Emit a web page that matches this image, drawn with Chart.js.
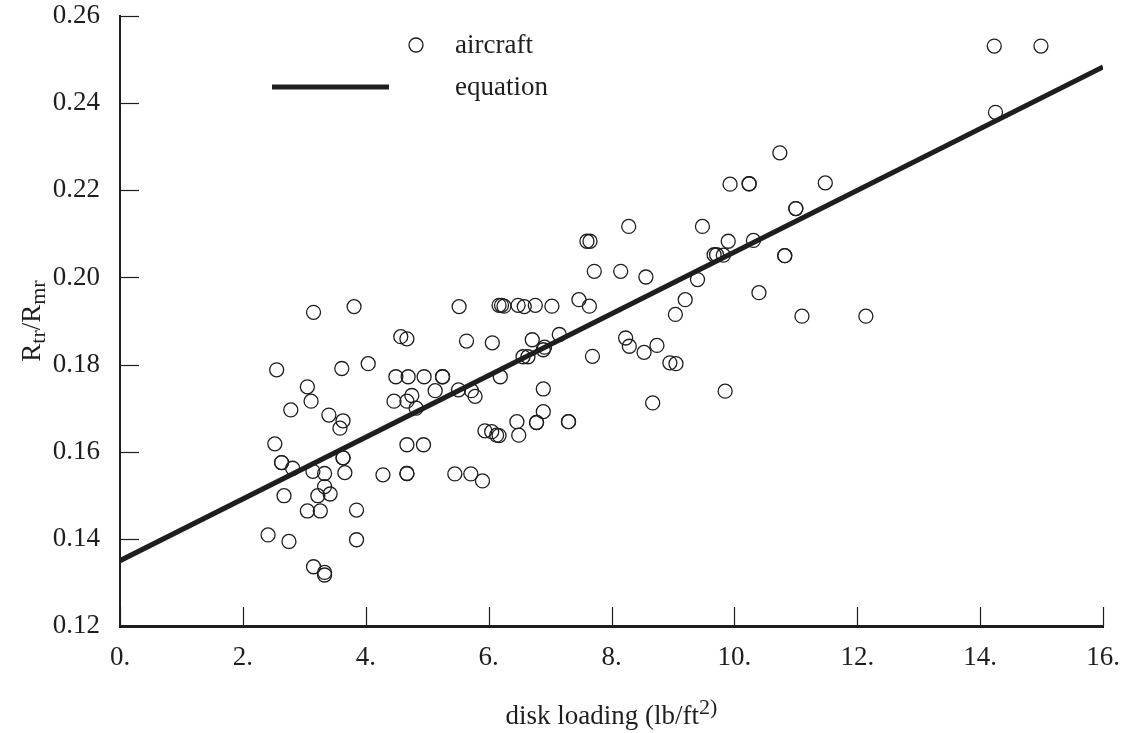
<!DOCTYPE html>
<html>
<head>
<meta charset="utf-8">
<script src="https://cdn.jsdelivr.net/npm/chart.js@4.4.1/dist/chart.umd.min.js"></script>
<style>
html,body{margin:0;padding:0;background:#fff;}
#wrap{width:1123px;height:733px;position:relative;}
</style>
</head>
<body>
<div id="wrap"><canvas id="c" width="1123" height="733"></canvas></div>
<script>
// ---- data ----
const diskLoading = [
3.15,3.81,4.57,4.67,2.55,3.61,4.04,4.49,4.69,4.95,
3.05,3.11,2.78,3.40,3.63,3.58,4.46,4.67,4.75,4.82,
2.52,2.63,2.63,2.81,3.14,3.33,3.63,3.63,3.66,4.28,4.67,4.67,
4.67,4.94,2.67,3.22,3.42,3.33,3.05,3.26,3.85,2.41,2.75,3.85,
3.15,3.33,3.33,
7.72,5.52,6.17,6.21,6.25,6.48,6.58,6.76,7.03,7.47,7.64,
5.64,6.06,6.71,7.15,6.56,6.64,6.89,6.91,7.69,
5.25,5.25,6.19,5.13,5.51,5.72,5.78,6.89,6.89,6.46,6.78,6.78,7.30,7.30,
5.94,6.05,6.13,6.17,6.49,5.45,5.71,5.90,
8.28,9.48,7.60,7.65,9.90,9.67,9.71,9.82,8.15,8.56,9.40,9.20,9.04,
8.23,8.29,8.53,8.74,8.95,9.05,9.85,8.67,
10.74,10.24,10.24,11.48,11.00,11.00,10.31,10.82,10.82,10.40,11.10,12.14,9.93,
14.23,14.99,14.25
];
const radiusRatio = [
0.1920,0.1933,0.1864,0.1859,0.1788,0.1791,0.1802,0.1772,0.1772,0.1772,
0.1749,0.1716,0.1696,0.1684,0.1671,0.1654,0.1716,0.1716,0.1729,0.1700,
0.1618,0.1575,0.1575,0.1562,0.1555,0.1550,0.1586,0.1586,0.1552,0.1547,0.1550,0.1550,
0.1616,0.1616,0.1499,0.1499,0.1503,0.1520,0.1464,0.1464,0.1466,0.1409,0.1394,0.1398,
0.1336,0.1323,0.1317,
0.2014,0.1933,0.1936,0.1936,0.1934,0.1936,0.1933,0.1936,0.1934,0.1949,0.1934,
0.1854,0.1850,0.1857,0.1869,0.1818,0.1818,0.1834,0.1840,0.1819,
0.1772,0.1772,0.1772,0.1740,0.1742,0.1740,0.1727,0.1744,0.1692,0.1669,0.1667,0.1667,0.1669,0.1669,
0.1648,0.1646,0.1638,0.1637,0.1638,0.1549,0.1549,0.1533,
0.2117,0.2117,0.2083,0.2083,0.2083,0.2052,0.2052,0.2051,0.2014,0.2001,0.1995,0.1949,0.1915,
0.1861,0.1842,0.1828,0.1844,0.1804,0.1802,0.1739,0.1712,
0.2286,0.2215,0.2215,0.2217,0.2158,0.2158,0.2085,0.2050,0.2050,0.1965,0.1911,0.1911,0.2214,
0.2531,0.2531,0.2379
];
const equationX = [0, 16];
const equationY = [0.1350, 0.2483];
const xTickValues = [0,2,4,6,8,10,12,14,16];
const xTickLabels = ['0.','2.','4.','6.','8.','10.','12.','14.','16.'];
const yTickValues = [0.12,0.14,0.16,0.18,0.20,0.22,0.24,0.26];
const yTickLabels = ['0.12','0.14','0.16','0.18','0.20','0.22','0.24','0.26'];
const seriesNames = ['aircraft','equation'];

const INK = '#1e1e1e';
const FONT = '"Liberation Serif", "Times New Roman", serif';
const FS = 27;

const aircraftPts = diskLoading.map((x,i)=>({x:x, y:radiusRatio[i]}));
const eqPts = equationX.map((x,i)=>({x:x, y:equationY[i]}));

const decor = {
  id:'decor',
  afterDraw(chart){
    const ctx = chart.ctx;
    const xs = chart.scales.x, ys = chart.scales.y;
    const ca = chart.chartArea;
    ctx.save();
    ctx.strokeStyle = INK;
    ctx.lineWidth = 1.2;
    // inward ticks
    xTickValues.forEach(v=>{
      const px = Math.round(xs.getPixelForValue(v))+0.5;
      ctx.beginPath(); ctx.moveTo(px, ca.bottom); ctx.lineTo(px, ca.bottom-19); ctx.stroke();
    });
    yTickValues.forEach(v=>{
      const py = Math.round(ys.getPixelForValue(v))+0.5;
      ctx.beginPath(); ctx.moveTo(ca.left, py); ctx.lineTo(ca.left+19, py); ctx.stroke();
    });
    // legend
    ctx.fillStyle = INK;
    ctx.font = FS + 'px ' + FONT;
    ctx.textBaseline = 'middle';
    ctx.textAlign = 'left';
    ctx.lineWidth = 1.3;
    ctx.beginPath(); ctx.arc(416, 45, 7, 0, Math.PI*2); ctx.stroke();
    ctx.fillText(seriesNames[0], 455, 46);
    ctx.lineWidth = 5;
    ctx.beginPath(); ctx.moveTo(272, 87); ctx.lineTo(389, 87); ctx.stroke();
    ctx.fillText(seriesNames[1], 455, 88);
    // x title with superscript
    const cx = (ca.left+ca.right)/2;
    const ty = 716;
    const main = 'disk loading (lb/ft';
    const sup = '2)';
    ctx.font = FS + 'px ' + FONT;
    const w1 = ctx.measureText(main).width;
    ctx.font = Math.round(FS*0.8) + 'px ' + FONT;
    const w2 = ctx.measureText(sup).width;
    let sx = cx - (w1+w2)/2;
    ctx.textBaseline = 'alphabetic';
    ctx.font = FS + 'px ' + FONT;
    ctx.fillText(main, sx, ty+8);
    ctx.font = Math.round(FS*0.8) + 'px ' + FONT;
    ctx.fillText(sup, sx+w1, ty-2);
    // y title with subscripts, rotated
    const cy = (ca.top+ca.bottom)/2;
    ctx.translate(32, cy);
    ctx.rotate(-Math.PI/2);
    const parts = [['R',0],['tr',1],['/R',0],['mr',1]];
    let tot = 0;
    parts.forEach(p=>{ ctx.font = (p[1]?Math.round(FS*0.8):FS)+'px '+FONT; tot += ctx.measureText(p[0]).width; });
    let px = -tot/2;
    parts.forEach(p=>{
      ctx.font = (p[1]?Math.round(FS*0.8):FS)+'px '+FONT;
      ctx.fillText(p[0], px, p[1]? 13 : 8);
      px += ctx.measureText(p[0]).width;
    });
    ctx.restore();
  }
};

new Chart(document.getElementById('c'), {
  type:'scatter',
  data:{
    datasets:[
      {
        label: seriesNames[0],
        data: aircraftPts,
        pointStyle:'circle',
        pointRadius:7,
        pointHoverRadius:7,
        borderColor: INK,
        backgroundColor:'rgba(0,0,0,0)',
        pointBorderWidth:1.3,
        showLine:false
      },
      {
        label: seriesNames[1],
        type:'line',
        data: eqPts,
        borderColor: INK,
        borderWidth:5,
        pointRadius:0,
        fill:false
      }
    ]
  },
  options:{
    responsive:false,
    animation:false,
    devicePixelRatio:1,
    layout:{padding:{left:0,right:20,top:16,bottom:0}},
    plugins:{legend:{display:false},tooltip:{enabled:false}},
    scales:{
      x:{
        type:'linear', min:0, max:16,
        afterBuildTicks(s){ s.ticks = xTickValues.map(v=>({value:v})); },
        afterFit(s){ s.height = 107; s.paddingLeft = 0; s.paddingRight = 0; },
        grid:{display:false, drawTicks:false},
        border:{display:true, color:INK, width:3},
        ticks:{
          color:INK, padding:16,
          font:{family:FONT, size:FS},
          callback:(v)=>{ const i = xTickValues.indexOf(v); return i>=0?xTickLabels[i]:''; },
          maxRotation:0, autoSkip:false
        }
      },
      y:{
        type:'linear', min:0.12, max:0.26,
        afterBuildTicks(s){ s.ticks = yTickValues.map(v=>({value:v})); },
        afterFit(s){ s.width = 120; s.paddingTop = 0; s.paddingBottom = 0; },
        grid:{display:false, drawTicks:false},
        border:{display:true, color:INK, width:2},
        ticks:{
          color:INK, padding:20,
          font:{family:FONT, size:FS},
          callback:(v)=>{ const i = yTickValues.findIndex(t=>Math.abs(t-v)<1e-9); return i>=0?yTickLabels[i]:''; },
          autoSkip:false
        }
      }
    }
  },
  plugins:[decor]
});
</script>
</body>
</html>
